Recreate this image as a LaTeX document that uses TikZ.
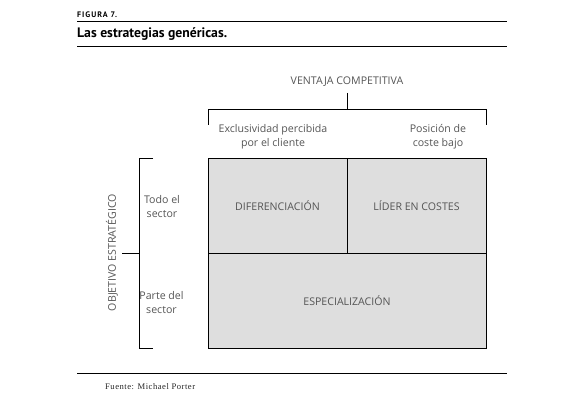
\documentclass[tikz,border=0pt]{standalone}
\usepackage{fontspec}
\setmainfont{Open Sans}
\newfontfamily\headfont{PT Sans}
\newfontfamily\figfont[LetterSpace=12]{PT Sans}
\newfontfamily\footfont[LetterSpace=6]{Liberation Serif}
\definecolor{txtgray}{HTML}{555555}
\definecolor{cellfill}{HTML}{DEDEDE}
\begin{document}
\begin{tikzpicture}[x=1pt,y=-1pt,
  cell/.style={draw=black,line width=0.9pt,fill=cellfill,inner sep=0pt,outer sep=0pt,
    font=\fontsize{10.6}{12}\selectfont,text=txtgray},
  lbl/.style={font=\fontsize{10.6}{14}\selectfont,text=txtgray,align=center,inner sep=0pt},
  rule/.style={line width=0.9pt,black},
  brk/.style={line width=0.8pt,black}]
\useasboundingbox (0,0) rectangle (584,409);
% header
\node[anchor=base west,inner sep=0pt,font=\figfont\bfseries\fontsize{8}{9}\selectfont] (fig) at (77,17.5) {FIGURA 7.};
\coordinate (r1a) at (77,21.5); \coordinate (r1b) at (507,21.5);
\draw[rule] (r1a) -- (r1b);
\node[anchor=base west,inner sep=0pt,font=\headfont\bfseries\fontsize{13.7}{15}\selectfont] (title) at (77,38) {Las estrategias genéricas.};
\coordinate (r2a) at (77,46.5); \coordinate (r2b) at (507,46.5);
\draw[rule] (r2a) -- (r2b);
% cells
\node[cell,minimum width=139pt,minimum height=95pt] (dif) at (277.5,205.5) {DIFERENCIACIÓN};
\node[cell,minimum width=139pt,minimum height=95pt] (lid) at (416.5,205.5) {LÍDER EN COSTES};
\node[cell,minimum width=278pt,minimum height=95pt] (esp) at (347,300.5) {ESPECIALIZACIÓN};
% top bracket
\node[lbl] (vc) at (347,82) {VENTAJA COMPETITIVA};
\coordinate (vt) at (347,93);
\coordinate (vb) at (347,109.5);
\coordinate (bl) at (208,109.5); \coordinate (br) at (486,109.5);
\coordinate (blt) at (208,125); \coordinate (brt) at (486,125);
\draw[brk] (vt) -- (vb);
\draw[brk] (blt) -- (bl) -- (br) -- (brt);
\node[lbl] (excl) at (273,136.5) {Exclusividad percibida\\por el cliente};
\node[lbl] (pos) at (438,136.5) {Posición de\\coste bajo};
% left bracket
\coordinate (lt) at (153,158); \coordinate (ltc) at (139,158);
\coordinate (lb) at (153,348); \coordinate (lbc) at (139,348);
\coordinate (lm) at (139,253); \coordinate (lmo) at (122,253);
\draw[brk] (lt) -- (ltc) -- (lbc) -- (lb);
\draw[brk] (lmo) -- (lm);
\node[lbl,rotate=90] (obj) at (112,252.5) {OBJETIVO ESTRATÉGICO};
\node[lbl] (todo) at (162,206.5) {Todo el\\sector};
\node[lbl] (parte) at (161.5,302.5) {Parte del\\sector};
% footer
\coordinate (r3a) at (77,373); \coordinate (r3b) at (507,373);
\draw[rule] (r3a) -- (r3b);
\node[anchor=base west,inner sep=0pt,font=\footfont\fontsize{8.6}{10}\selectfont,text=black!85] (src) at (105,389) {Fuente: Michael Porter};
\end{tikzpicture}
\end{document}
